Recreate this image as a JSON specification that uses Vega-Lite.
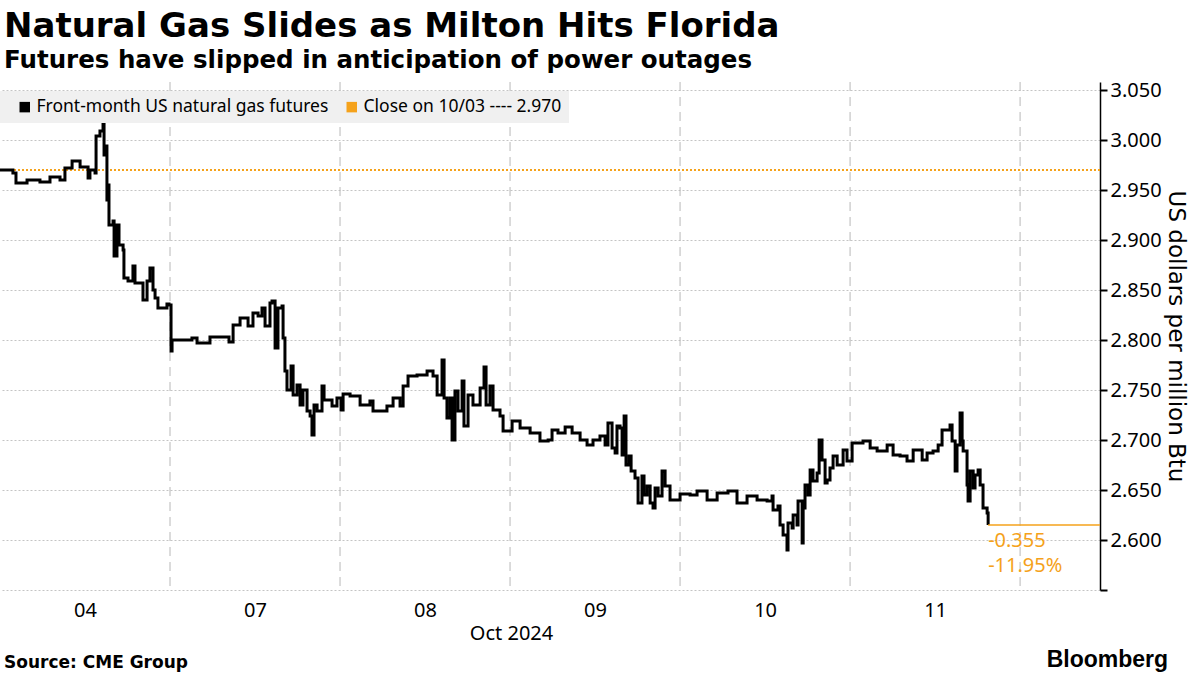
{
  "$schema": "https://vega.github.io/schema/vega-lite/v6.json",
  "padding": {"left": -6, "top": 9, "right": 10, "bottom": 0},
  "background": "#ffffff",
  "title": {
    "text": "Natural Gas Slides as Milton Hits Florida",
    "subtitle": "Futures have slipped in anticipation of power outages",
    "anchor": "start",
    "dx": 10,
    "font": "DejaVu Sans",
    "subtitleFont": "DejaVu Sans",
    "fontSize": 34,
    "subtitleFontSize": 24.5,
    "fontWeight": "bold",
    "subtitleFontWeight": "bold",
    "color": "#000000",
    "subtitleColor": "#000000",
    "subtitlePadding": 5,
    "offset": 8
  },
  "datasets": {
    "price": [
      {"t": 0.000, "v": 2.970}, {"t": 0.076, "v": 2.967}, {"t": 0.094, "v": 2.957}, {"t": 0.159, "v": 2.960},
      {"t": 0.235, "v": 2.958}, {"t": 0.294, "v": 2.963}, {"t": 0.353, "v": 2.960}, {"t": 0.382, "v": 2.972},
      {"t": 0.424, "v": 2.979}, {"t": 0.471, "v": 2.973}, {"t": 0.518, "v": 2.962}, {"t": 0.529, "v": 2.970},
      {"t": 0.559, "v": 2.967}, {"t": 0.565, "v": 3.004}, {"t": 0.588, "v": 3.009}, {"t": 0.606, "v": 3.018},
      {"t": 0.612, "v": 2.985}, {"t": 0.624, "v": 2.994}, {"t": 0.629, "v": 2.940}, {"t": 0.635, "v": 2.955},
      {"t": 0.641, "v": 2.915}, {"t": 0.665, "v": 2.919}, {"t": 0.671, "v": 2.884}, {"t": 0.688, "v": 2.915},
      {"t": 0.700, "v": 2.895}, {"t": 0.724, "v": 2.890}, {"t": 0.729, "v": 2.862}, {"t": 0.753, "v": 2.859},
      {"t": 0.782, "v": 2.874}, {"t": 0.794, "v": 2.857}, {"t": 0.824, "v": 2.857}, {"t": 0.841, "v": 2.840},
      {"t": 0.865, "v": 2.859}, {"t": 0.882, "v": 2.872}, {"t": 0.900, "v": 2.850}, {"t": 0.912, "v": 2.842},
      {"t": 0.929, "v": 2.832}, {"t": 0.982, "v": 2.836}, {"t": 0.994, "v": 2.835},
      {"t": 1.006, "v": 2.789}, {"t": 1.012, "v": 2.800}, {"t": 1.076, "v": 2.800}, {"t": 1.129, "v": 2.802},
      {"t": 1.159, "v": 2.797}, {"t": 1.235, "v": 2.803}, {"t": 1.335, "v": 2.803}, {"t": 1.347, "v": 2.798},
      {"t": 1.371, "v": 2.815}, {"t": 1.412, "v": 2.822}, {"t": 1.459, "v": 2.814}, {"t": 1.488, "v": 2.827},
      {"t": 1.518, "v": 2.824}, {"t": 1.541, "v": 2.832}, {"t": 1.559, "v": 2.814}, {"t": 1.588, "v": 2.837},
      {"t": 1.600, "v": 2.839}, {"t": 1.618, "v": 2.792}, {"t": 1.635, "v": 2.832}, {"t": 1.659, "v": 2.834},
      {"t": 1.665, "v": 2.802}, {"t": 1.676, "v": 2.769}, {"t": 1.688, "v": 2.750}, {"t": 1.712, "v": 2.774},
      {"t": 1.724, "v": 2.745}, {"t": 1.747, "v": 2.755}, {"t": 1.765, "v": 2.735}, {"t": 1.782, "v": 2.750},
      {"t": 1.806, "v": 2.729}, {"t": 1.824, "v": 2.724}, {"t": 1.835, "v": 2.705}, {"t": 1.847, "v": 2.735},
      {"t": 1.865, "v": 2.729}, {"t": 1.894, "v": 2.754}, {"t": 1.906, "v": 2.740}, {"t": 1.953, "v": 2.734},
      {"t": 1.982, "v": 2.742}, {"t": 2.006, "v": 2.730},
      {"t": 2.018, "v": 2.746}, {"t": 2.059, "v": 2.744}, {"t": 2.118, "v": 2.735}, {"t": 2.176, "v": 2.739},
      {"t": 2.194, "v": 2.729}, {"t": 2.276, "v": 2.734}, {"t": 2.312, "v": 2.742}, {"t": 2.353, "v": 2.734},
      {"t": 2.371, "v": 2.754}, {"t": 2.400, "v": 2.764}, {"t": 2.453, "v": 2.765}, {"t": 2.512, "v": 2.769},
      {"t": 2.547, "v": 2.764}, {"t": 2.571, "v": 2.745}, {"t": 2.600, "v": 2.780}, {"t": 2.612, "v": 2.742},
      {"t": 2.629, "v": 2.722}, {"t": 2.647, "v": 2.742}, {"t": 2.659, "v": 2.700}, {"t": 2.676, "v": 2.749},
      {"t": 2.694, "v": 2.729}, {"t": 2.718, "v": 2.759}, {"t": 2.729, "v": 2.714}, {"t": 2.753, "v": 2.745},
      {"t": 2.782, "v": 2.735}, {"t": 2.824, "v": 2.752}, {"t": 2.847, "v": 2.773}, {"t": 2.859, "v": 2.735},
      {"t": 2.882, "v": 2.754}, {"t": 2.900, "v": 2.730}, {"t": 2.941, "v": 2.724}, {"t": 2.959, "v": 2.709},
      {"t": 3.012, "v": 2.719},
      {"t": 3.059, "v": 2.712}, {"t": 3.118, "v": 2.707}, {"t": 3.176, "v": 2.699}, {"t": 3.224, "v": 2.700},
      {"t": 3.247, "v": 2.710}, {"t": 3.282, "v": 2.707}, {"t": 3.324, "v": 2.713}, {"t": 3.365, "v": 2.707},
      {"t": 3.412, "v": 2.700}, {"t": 3.453, "v": 2.695}, {"t": 3.488, "v": 2.700}, {"t": 3.529, "v": 2.704},
      {"t": 3.559, "v": 2.695}, {"t": 3.576, "v": 2.717}, {"t": 3.600, "v": 2.692}, {"t": 3.618, "v": 2.687},
      {"t": 3.629, "v": 2.714}, {"t": 3.647, "v": 2.712}, {"t": 3.659, "v": 2.685}, {"t": 3.671, "v": 2.724},
      {"t": 3.682, "v": 2.675}, {"t": 3.700, "v": 2.684}, {"t": 3.712, "v": 2.669}, {"t": 3.735, "v": 2.662},
      {"t": 3.753, "v": 2.637}, {"t": 3.776, "v": 2.664}, {"t": 3.788, "v": 2.645}, {"t": 3.806, "v": 2.654},
      {"t": 3.824, "v": 2.637}, {"t": 3.841, "v": 2.632}, {"t": 3.853, "v": 2.652}, {"t": 3.871, "v": 2.644},
      {"t": 3.894, "v": 2.669}, {"t": 3.912, "v": 2.654}, {"t": 3.941, "v": 2.640}, {"t": 4.000, "v": 2.646},
      {"t": 4.059, "v": 2.645}, {"t": 4.100, "v": 2.649}, {"t": 4.159, "v": 2.640}, {"t": 4.218, "v": 2.647},
      {"t": 4.282, "v": 2.649}, {"t": 4.335, "v": 2.637}, {"t": 4.394, "v": 2.644}, {"t": 4.453, "v": 2.640},
      {"t": 4.512, "v": 2.639}, {"t": 4.541, "v": 2.644}, {"t": 4.547, "v": 2.630}, {"t": 4.576, "v": 2.634},
      {"t": 4.588, "v": 2.615}, {"t": 4.606, "v": 2.605}, {"t": 4.629, "v": 2.590}, {"t": 4.635, "v": 2.617},
      {"t": 4.659, "v": 2.612}, {"t": 4.665, "v": 2.625}, {"t": 4.688, "v": 2.615}, {"t": 4.694, "v": 2.639},
      {"t": 4.718, "v": 2.597}, {"t": 4.724, "v": 2.632}, {"t": 4.735, "v": 2.655}, {"t": 4.753, "v": 2.645},
      {"t": 4.765, "v": 2.670}, {"t": 4.782, "v": 2.659}, {"t": 4.806, "v": 2.667}, {"t": 4.818, "v": 2.700},
      {"t": 4.835, "v": 2.680}, {"t": 4.853, "v": 2.657}, {"t": 4.865, "v": 2.660}, {"t": 4.882, "v": 2.672},
      {"t": 4.900, "v": 2.684}, {"t": 4.924, "v": 2.675}, {"t": 4.959, "v": 2.690}, {"t": 4.982, "v": 2.679},
      {"t": 5.012, "v": 2.697}, {"t": 5.041, "v": 2.697}, {"t": 5.076, "v": 2.699}, {"t": 5.118, "v": 2.692},
      {"t": 5.159, "v": 2.689}, {"t": 5.218, "v": 2.695}, {"t": 5.253, "v": 2.685}, {"t": 5.294, "v": 2.684},
      {"t": 5.335, "v": 2.679}, {"t": 5.371, "v": 2.690}, {"t": 5.424, "v": 2.680}, {"t": 5.453, "v": 2.687},
      {"t": 5.488, "v": 2.689}, {"t": 5.518, "v": 2.695}, {"t": 5.541, "v": 2.710}, {"t": 5.571, "v": 2.710},
      {"t": 5.588, "v": 2.715}, {"t": 5.600, "v": 2.699}, {"t": 5.618, "v": 2.669}, {"t": 5.629, "v": 2.695},
      {"t": 5.647, "v": 2.727}, {"t": 5.659, "v": 2.699}, {"t": 5.665, "v": 2.689}, {"t": 5.688, "v": 2.655},
      {"t": 5.694, "v": 2.639}, {"t": 5.706, "v": 2.669}, {"t": 5.724, "v": 2.652}, {"t": 5.735, "v": 2.665},
      {"t": 5.753, "v": 2.670}, {"t": 5.765, "v": 2.655}, {"t": 5.782, "v": 2.632}, {"t": 5.806, "v": 2.627},
      {"t": 5.812, "v": 2.615}
    ],
    "sessions": [{"t": 1}, {"t": 2}, {"t": 3}, {"t": 4}, {"t": 5}, {"t": 6}],
    "reference": [{"v": 2.970}],
    "last": [{"t": 5.812, "t2": 6.47, "v": 2.615, "label": "-0.355\n-11.95%"}]
  },
  "vconcat": [
    {
      "title": {
        "text": "Bloomberg",
        "orient": "bottom",
        "anchor": "end",
        "font": "Liberation Sans",
        "fontSize": 23,
        "fontWeight": "bold",
        "color": "#000000",
        "dx": -18,
        "dy": -22,
        "offset": 0
      },
      "vconcat": [
        {
          "title": {
            "text": "Source: CME Group",
            "orient": "bottom",
            "anchor": "start",
            "font": "DejaVu Sans",
            "fontSize": 17,
            "fontWeight": "bold",
            "color": "#000000",
            "dx": 10,
            "offset": 12
          },
          "width": 1100,
          "height": 508,
          "layer": [
            {
              "data": {"name": "sessions"},
              "mark": {"type": "rule", "color": "#b8b8b8", "strokeWidth": 1, "strokeDash": [9, 6]},
              "encoding": {
                "x": {"field": "t", "type": "quantitative"}
              }
            },
            {
              "data": {"name": "reference"},
              "mark": {"type": "rule", "strokeWidth": 2, "strokeDash": [2, 2]},
              "encoding": {
                "y": {"field": "v", "type": "quantitative"},
                "color": {"datum": "Close on 10/03 ---- 2.970", "type": "nominal"}
              }
            },
            {
              "data": {"name": "price"},
              "mark": {"type": "line", "interpolate": "step-after", "strokeWidth": 3},
              "encoding": {
                "x": {
                  "field": "t",
                  "type": "quantitative",
                  "scale": {"domain": [0, 6.47], "nice": false, "zero": false},
                  "axis": {
                    "orient": "bottom",
                    "values": [0.5, 1.5, 2.5, 3.5, 4.5, 5.5],
                    "labelExpr": "['04', '07', '08', '09', '10', '11'][floor(datum.value)]",
                    "ticks": false,
                    "domain": false,
                    "grid": false,
                    "labelPadding": 10,
                    "title": "Oct 2024",
                    "titleX": 511,
                    "titlePadding": 3
                  }
                },
                "y": {
                  "field": "v",
                  "type": "quantitative",
                  "scale": {"domain": [2.55, 3.058], "nice": false, "zero": false},
                  "axis": {
                    "orient": "right",
                    "values": [2.55, 2.575, 2.6, 2.625, 2.65, 2.675, 2.7, 2.725, 2.75, 2.775, 2.8, 2.825, 2.85, 2.875, 2.9, 2.925, 2.95, 2.975, 3.0, 3.025, 3.05],
                    "labelExpr": "(round(datum.value * 1000) % 50 === 0 && datum.value > 2.56) ? format(datum.value, '.3f') : ''",
                    "tickSize": {"condition": {"test": "round(datum.value * 1000) % 50 === 0", "value": 7}, "value": 5},
                    "tickWidth": {"condition": {"test": "round(datum.value * 1000) % 50 === 0", "value": 2}, "value": 1},
                    "gridOpacity": {"condition": {"test": "round(datum.value * 1000) % 50 === 0", "value": 1}, "value": 0},
                    "grid": true,
                    "title": "US dollars per million Btu",
                    "titleFont": "DejaVu Sans",
                    "titleFontSize": 23,
                    "titlePadding": 2
                  }
                },
                "color": {
                  "datum": "Front-month US natural gas futures",
                  "type": "nominal",
                  "scale": {
                    "domain": ["Front-month US natural gas futures", "Close on 10/03 ---- 2.970"],
                    "range": ["#000000", "#f5a21b"]
                  },
                  "legend": {
                    "title": null,
                    "orient": "none",
                    "legendX": 0,
                    "legendY": 9,
                    "direction": "horizontal",
                    "fillColor": "#f0f0f0",
                    "padding": 7,
                    "symbolType": "square",
                    "symbolSize": 110,
                    "symbolOffset": 9,
                    "labelOffset": 3,
                    "labelLimit": 0,
                    "columnPadding": 5,
                    "labelFontSize": 17.5,
                    "labelFont": "Noto Sans",
                    "labelColor": "#000000",
                    "encode": {
                      "symbols": {
                        "update": {
                          "fill": {"scale": "color", "field": "value"},
                          "fillOpacity": {"value": 1},
                          "strokeWidth": {"value": 0}
                        }
                      }
                    }
                  }
                }
              }
            },
            {
              "data": {"name": "last"},
              "mark": {"type": "rule", "color": "#f5a21b", "strokeWidth": 1.5},
              "encoding": {
                "x": {"field": "t", "type": "quantitative"},
                "x2": {"field": "t2"},
                "y": {"field": "v", "type": "quantitative"}
              }
            },
            {
              "data": {"name": "last"},
              "mark": {
                "type": "text",
                "align": "left",
                "baseline": "top",
                "dy": 6,
                "lineBreak": "\n",
                "lineHeight": 25,
                "font": "Noto Sans",
                "fontSize": 20,
                "color": "#f5a21b"
              },
              "encoding": {
                "x": {"field": "t", "type": "quantitative"},
                "y": {"field": "v", "type": "quantitative"},
                "text": {"field": "label"}
              }
            }
          ]
        }
      ]
    }
  ],
  "config": {
    "view": {"stroke": null},
    "font": "Noto Sans",
    "axis": {
      "labelFont": "Noto Sans",
      "labelFontSize": 20,
      "labelColor": "#000000",
      "titleFont": "Noto Sans",
      "titleFontSize": 24,
      "titleFontWeight": "normal",
      "titleColor": "#000000",
      "domainColor": "#000000",
      "domainWidth": 1.5,
      "tickColor": "#000000",
      "gridColor": "#c4c4c4",
      "gridDash": [2, 2],
      "gridWidth": 1,
      "labelPadding": 3
    },
    "axisX": {"titleFontSize": 20}
  }
}
